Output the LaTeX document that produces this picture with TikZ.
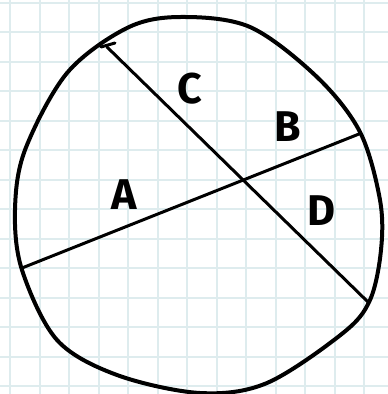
\documentclass[tikz,border=0pt]{standalone}
\usepackage{fontspec}
\setmainfont{Fira Sans}
\definecolor{gridc}{RGB}{222,236,238}
\begin{document}
\begin{tikzpicture}[x=1pt,y=-1pt,
  outline/.style={line width=4pt,line join=round},
  chord/.style={line width=3pt,line cap=round},
  lbl/.style={font=\fontsize{43}{43}\selectfont\bfseries,inner sep=0pt}]
\useasboundingbox (0,0) rectangle (388,394);
\fill[white] (0,0) rectangle (388,394);
\foreach \k in {0,...,13} {
  \draw[gridc,line width=2pt] ({10+29.5*\k},0) -- ({10+29.5*\k},394);
  \draw[gridc,line width=2pt] (0,{2.5+29.5*\k}) -- (388,{2.5+29.5*\k});
}
\draw[outline] plot[smooth cycle,tension=0.55] coordinates {
  (180,17) (250,27) (317,77) (360,132) (380,200) (381,250) (370,300)
  (343,333) (267,383) (200,393) (117,375) (57,340) (22,270) (15,210)
  (25,150) (67,73) (127,28)};
\coordinate (c1) at (107,47);
\coordinate (c2) at (368,302);
\coordinate (a1) at (22,268);
\coordinate (a2) at (359,134);
\draw[chord] (c1) -- (c2);
\draw[chord] (101,47) -- (115,43);
\draw[chord] (a1) -- (a2);
\node[lbl] (A) at (124,195) {A};
\node[lbl] (B) at (288,127) {B};
\node[lbl] (C) at (190,89) {C};
\node[lbl] (D) at (321,211) {D};
\end{tikzpicture}
\end{document}
